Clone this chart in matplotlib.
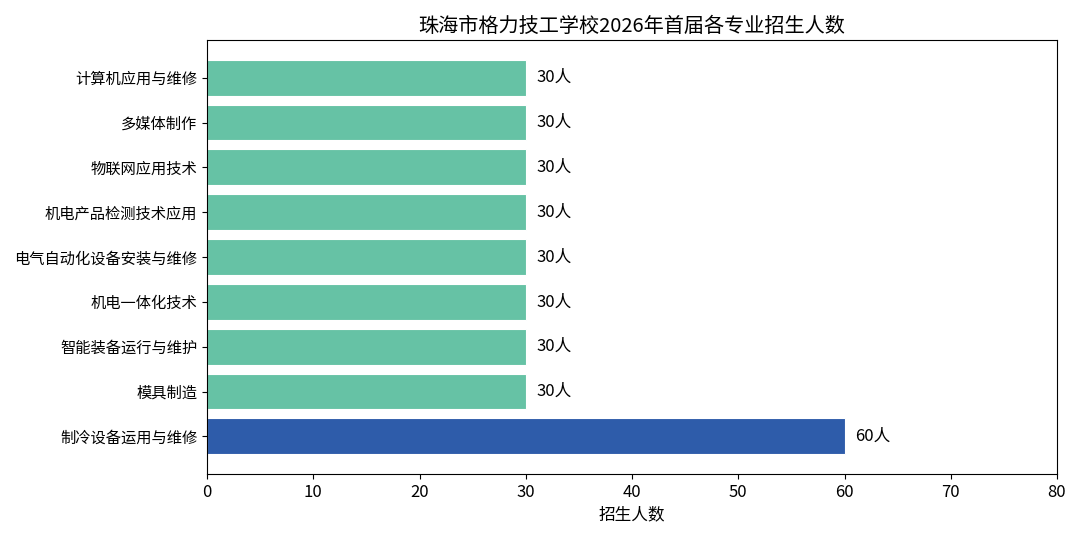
import matplotlib
matplotlib.use("Agg")
import matplotlib.pyplot as plt

plt.rcParams['font.family'] = ['Noto Sans CJK SC', 'DejaVu Sans']

majors = ["计算机应用与维修", "多媒体制作", "物联网应用技术", "机电产品检测技术应用",
          "电气自动化设备安装与维修", "机电一体化技术", "智能装备运行与维护",
          "模具制造", "制冷设备运用与维修"]
counts = [30, 30, 30, 30, 30, 30, 30, 30, 60]
colors = ["#66c2a5"] * 8 + ["#2e5caa"]

fig = plt.figure(figsize=(10.8, 5.37), dpi=100)
ax = fig.add_axes([0.1917, 0.1173, 0.787, 0.8082])

ypos = list(range(len(majors)))[::-1]
ax.barh(ypos, counts, height=0.8, color=colors, edgecolor="white", linewidth=0.8)
for y, v in zip(ypos, counts):
    ax.text(v + 1, y, f"{v}人", va="center", ha="left", fontsize=12)

ax.set_yticks(ypos)
ax.set_yticklabels(majors, fontsize=11)
ax.set_xlim(0, 80)
ax.set_xticks(range(0, 81, 10))
ax.tick_params(axis="x", labelsize=12)
ax.set_xlabel("招生人数", fontsize=12)
ax.set_title("珠海市格力技工学校2026年首届各专业招生人数", fontsize=14.5)

fig.savefig("out.png", dpi=100)
